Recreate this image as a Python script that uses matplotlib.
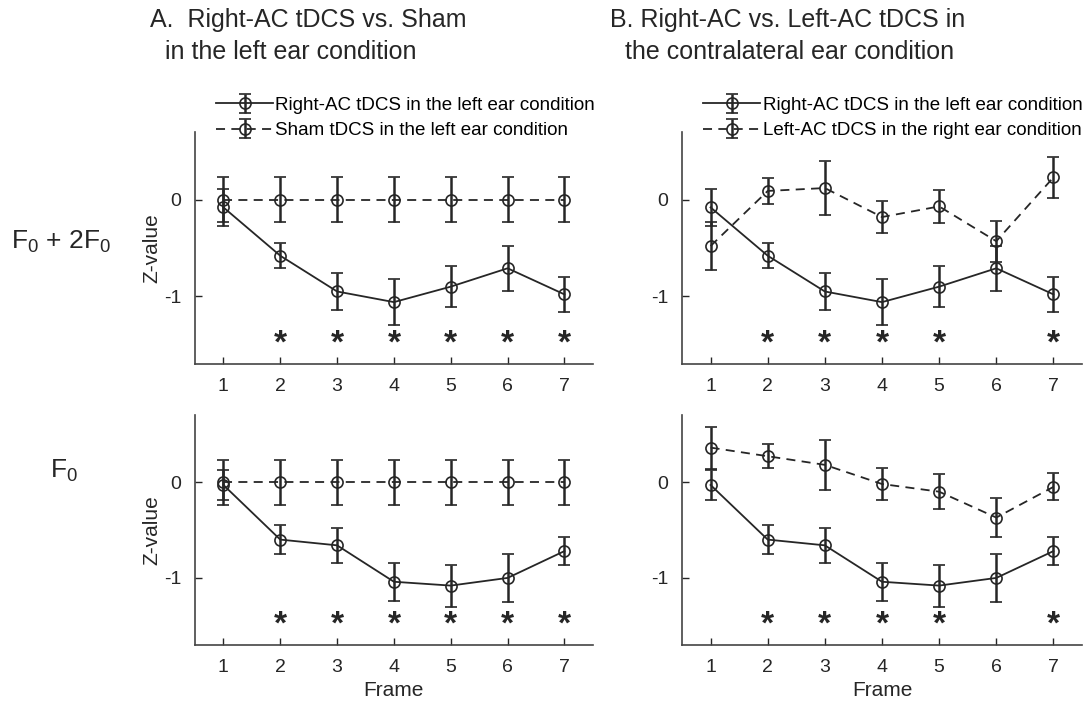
import matplotlib
matplotlib.use("Agg")
import matplotlib.pyplot as plt
import numpy as np

plt.rcParams['font.family'] = ['Liberation Sans', 'DejaVu Sans']
plt.rcParams['axes.unicode_minus'] = False

frames = np.arange(1, 8)

# F0 + 2F0 row
right_f2 = [-0.08, -0.58, -0.95, -1.06, -0.90, -0.71, -0.98]
right_f2_err = [0.19, 0.13, 0.19, 0.24, 0.21, 0.23, 0.18]
sham_f2 = [0, 0, 0, 0, 0, 0, 0]
sham_f2_err = [0.235] * 7
left_f2 = [-0.48, 0.09, 0.12, -0.18, -0.07, -0.43, 0.23]
left_f2_err = [0.25, 0.135, 0.28, 0.17, 0.17, 0.21, 0.21]

# F0 row
right_f0 = [-0.03, -0.60, -0.66, -1.04, -1.08, -1.00, -0.72]
right_f0_err = [0.16, 0.15, 0.18, 0.20, 0.22, 0.25, 0.145]
sham_f0 = [0, 0, 0, 0, 0, 0, 0]
sham_f0_err = [0.235] * 7
left_f0 = [0.36, 0.27, 0.18, -0.02, -0.10, -0.37, -0.05]
left_f0_err = [0.22, 0.125, 0.26, 0.17, 0.18, 0.20, 0.14]

sig_A = [2, 3, 4, 5, 6, 7]
sig_B = [2, 3, 4, 5, 7]

lab_right = 'Right-AC tDCS in the left ear condition'
lab_sham = 'Sham tDCS in the left ear condition'
lab_left = 'Left-AC tDCS in the right ear condition'

col = '#262626'

fig = plt.figure(figsize=(10.87, 7.02), dpi=100)
pos = {
    (0, 0): [0.1794, 0.4815, 0.366, 0.3305],
    (0, 1): [0.6274, 0.4815, 0.368, 0.3305],
    (1, 0): [0.1794, 0.0812, 0.366, 0.3276],
    (1, 1): [0.6274, 0.0812, 0.368, 0.3276],
}

panels = {
    (0, 0): (right_f2, right_f2_err, sham_f2, sham_f2_err, lab_sham, sig_A),
    (0, 1): (right_f2, right_f2_err, left_f2, left_f2_err, lab_left, sig_B),
    (1, 0): (right_f0, right_f0_err, sham_f0, sham_f0_err, lab_sham, sig_A),
    (1, 1): (right_f0, right_f0_err, left_f0, left_f0_err, lab_left, sig_B),
}

for (r, c), (y1, e1, y2, e2, lab2, sig) in panels.items():
    ax = fig.add_axes(pos[(r, c)])
    kw = dict(color=col, marker='o', markersize=8, mfc='none', mec=col,
              mew=1.2, capsize=4, elinewidth=1.8, capthick=1.8, lw=1.3)
    ax.errorbar(frames, y1, yerr=e1, ls='-', label=lab_right, **kw)
    ax.errorbar(frames, y2, yerr=e2, ls=(0, (5, 3.5)), label=lab2, **kw)
    for f in sig:
        ax.text(f, -1.49, '*', fontsize=24, fontweight='bold', ha='center',
                va='center', color=col)
    ax.set_xlim(0.5, 7.5)
    ax.set_ylim(-1.7, 0.7)
    ax.set_xticks(frames)
    ax.set_yticks([-1, 0])
    ax.tick_params(direction='in', length=5, labelsize=14, colors=col,
                   width=1.0, pad=10)
    for s in ['top', 'right']:
        ax.spines[s].set_visible(False)
    for s in ['left', 'bottom']:
        ax.spines[s].set_color('#444444')
        ax.spines[s].set_linewidth(1.2)
    if c == 0:
        ax.set_ylabel('Z-value', fontsize=15, color=col, labelpad=2)
    if r == 1:
        ax.set_xlabel('Frame', fontsize=15, color=col, labelpad=4)
    if r == 0:
        ax.legend(loc='center left', bbox_to_anchor=(0.035, 1.06),
                  frameon=False, fontsize=13.5, handlelength=3.0,
                  handletextpad=0.15, borderaxespad=0, labelspacing=0.45)

tfont = dict(fontsize=18, color=col)
fig.text(0.138, 0.972, 'A.  Right-AC tDCS vs. Sham', ha='left', va='center', **tfont)
fig.text(0.152, 0.926, 'in the left ear condition', ha='left', va='center', **tfont)
fig.text(0.561, 0.972, 'B. Right-AC vs. Left-AC tDCS in', ha='left', va='center', **tfont)
fig.text(0.575, 0.926, 'the contralateral ear condition', ha='left', va='center', **tfont)

fig.text(0.01, 0.655, r'F$_\mathregular{0}$ + 2F$_\mathregular{0}$', fontsize=19,
         color=col, ha='left', va='center')
fig.text(0.046, 0.33, r'F$_\mathregular{0}$', fontsize=19, color=col,
         ha='left', va='center')

fig.savefig('out.png', dpi=100)
